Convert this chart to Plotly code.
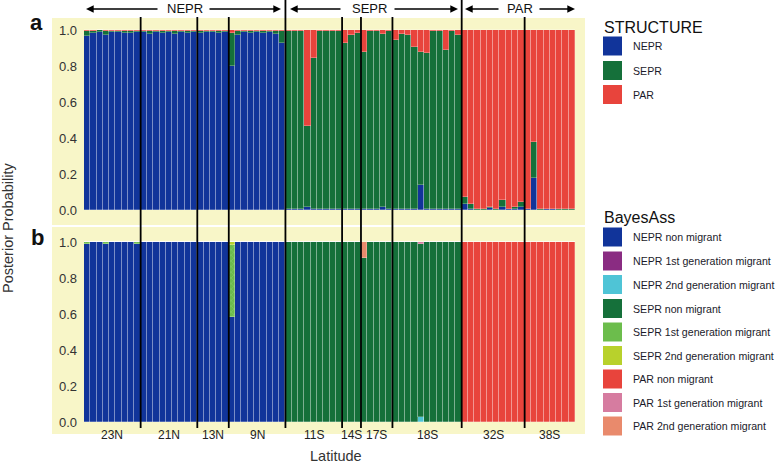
import plotly.graph_objects as go

W, H = 778, 464

def px(x):
    return x / W

def py(y):
    return 1 - y / H

# ---------------- data ----------------
group_labels = ["23N", "21N", "13N", "9N", "11S", "14S", "17S", "18S", "32S", "38S"]
group_sizes = [9, 9, 5, 9, 9, 3, 5, 11, 10, 8]
region_labels = ["NEPR", "SEPR", "PAR"]
region_group_counts = [4, 4, 2]

# STRUCTURE posterior probabilities (per individual, 78 individuals)
s_nepr = [0.965, 0.985, 0.99, 0.975, 0.99, 0.99, 0.985, 0.985, 0.99,
          0.99, 0.98, 0.99, 0.985, 0.99, 0.98, 0.99, 0.985, 0.99,
          0.985, 0.99, 0.99, 0.985, 0.99,
          0.80, 0.975, 0.99, 0.985, 0.99, 0.985, 0.99, 0.98, 0.93,
          0.005, 0.003, 0.003, 0.017, 0.005, 0.003, 0.005, 0.005, 0.003,
          0.005, 0.003, 0.003,
          0.005, 0.003, 0.003, 0.015, 0.003,
          0.003, 0.003, 0.008, 0.003, 0.14, 0.008, 0.003, 0.008, 0.005, 0.005, 0.003,
          0.033, 0.005, 0.002, 0.002, 0.013, 0.002, 0.017, 0.004, 0.003, 0.015,
          0.004, 0.176, 0.002, 0.004, 0.005, 0.002, 0.002, 0.002]
s_sepr = [0.03, 0.01, 0.008, 0.02, 0.005, 0.005, 0.01, 0.008, 0.005,
          0.006, 0.015, 0.005, 0.01, 0.006, 0.015, 0.005, 0.01, 0.006,
          0.01, 0.005, 0.005, 0.01, 0.005,
          0.185, 0.02, 0.005, 0.01, 0.006, 0.01, 0.005, 0.015, 0.065,
          0.99, 0.992, 0.992, 0.45, 0.84, 0.992, 0.99, 0.99, 0.992,
          0.925, 0.967, 0.98,
          0.875, 0.992, 0.992, 0.965, 0.992,
          0.94, 0.975, 0.967, 0.904, 0.74, 0.862, 0.99, 0.987, 0.885, 0.99, 0.972,
          0.041, 0.028, 0.003, 0.003, 0.002, 0.003, 0.037, 0.004, 0.013, 0.027,
          0.003, 0.204, 0.003, 0.003, 0.003, 0.003, 0.003, 0.003]
s_par = [0.005, 0.005, 0.002, 0.005, 0.005, 0.005, 0.005, 0.007, 0.005,
         0.004, 0.005, 0.005, 0.005, 0.004, 0.005, 0.005, 0.005, 0.004,
         0.005, 0.005, 0.005, 0.005, 0.005,
         0.015, 0.005, 0.005, 0.005, 0.004, 0.005, 0.005, 0.005, 0.005,
         0.005, 0.005, 0.005, 0.533, 0.155, 0.005, 0.005, 0.005, 0.005,
         0.07, 0.03, 0.017,
         0.12, 0.005, 0.005, 0.02, 0.005,
         0.057, 0.022, 0.025, 0.093, 0.12, 0.13, 0.007, 0.005, 0.11, 0.005, 0.025,
         0.926, 0.967, 0.995, 0.995, 0.985, 0.995, 0.946, 0.992, 0.984, 0.958,
         0.993, 0.62, 0.995, 0.993, 0.992, 0.995, 0.995, 0.995]

# BayesAss posterior probabilities (per individual)
b_nepr_non = [0.99, 1, 1, 0.99, 1, 1, 1, 1, 0.99,
              1, 1, 1, 1, 1, 1, 1, 1, 1,
              1, 1, 1, 1, 1,
              0.585, 1, 1, 1, 1, 1, 1, 1, 1,
              0, 0, 0, 0, 0, 0, 0, 0, 0,
              0, 0, 0,
              0, 0, 0, 0, 0,
              0, 0, 0, 0, 0, 0, 0, 0, 0, 0, 0,
              0, 0, 0, 0, 0, 0, 0, 0, 0, 0,
              0, 0, 0, 0, 0, 0, 0, 0]
b_nepr_1st = [0, 0, 0, 0, 0, 0, 0, 0, 0,
              0, 0, 0, 0, 0, 0, 0, 0, 0,
              0, 0, 0, 0, 0,
              0, 0, 0, 0, 0, 0, 0, 0, 0,
              0, 0, 0, 0, 0, 0, 0, 0, 0,
              0, 0, 0,
              0, 0, 0, 0, 0,
              0, 0, 0, 0, 0, 0, 0, 0, 0, 0, 0,
              0, 0, 0, 0, 0, 0, 0, 0, 0, 0,
              0, 0, 0, 0, 0, 0, 0, 0]
b_nepr_2nd = [0, 0, 0, 0, 0, 0, 0, 0, 0,
              0, 0, 0, 0, 0, 0, 0, 0, 0,
              0, 0, 0, 0, 0,
              0, 0, 0, 0, 0, 0, 0, 0, 0,
              0, 0, 0, 0, 0, 0, 0, 0, 0,
              0, 0, 0,
              0, 0, 0, 0, 0,
              0, 0, 0, 0, 0.03, 0, 0, 0, 0, 0, 0,
              0, 0, 0, 0, 0, 0, 0, 0, 0, 0,
              0, 0, 0, 0, 0, 0, 0, 0]
b_sepr_non = [0, 0, 0, 0, 0, 0, 0, 0, 0,
              0, 0, 0, 0, 0, 0, 0, 0, 0,
              0, 0, 0, 0, 0,
              0, 0, 0, 0, 0, 0, 0, 0, 0,
              1, 1, 1, 1, 1, 1, 1, 1, 1,
              1, 1, 1,
              0.91, 1, 1, 1, 1,
              1, 1, 1, 1, 0.96, 1, 1, 1, 1, 1, 1,
              0, 0, 0, 0, 0, 0, 0, 0, 0, 0,
              0, 0, 0, 0, 0, 0, 0, 0]
b_sepr_1st = [0.01, 0, 0, 0.01, 0, 0, 0, 0, 0.01,
              0, 0, 0, 0, 0, 0, 0, 0, 0,
              0, 0, 0, 0, 0,
              0.397, 0, 0, 0, 0, 0, 0, 0, 0,
              0, 0, 0, 0, 0, 0, 0, 0, 0,
              0, 0, 0,
              0, 0, 0, 0, 0,
              0, 0, 0, 0, 0, 0, 0, 0, 0, 0, 0,
              0, 0, 0, 0, 0, 0, 0, 0, 0, 0,
              0, 0, 0, 0, 0, 0, 0, 0]
b_sepr_2nd = [0, 0, 0, 0, 0, 0, 0, 0, 0,
              0, 0, 0, 0, 0, 0, 0, 0, 0,
              0, 0, 0, 0, 0,
              0.018, 0, 0, 0, 0, 0, 0, 0, 0,
              0, 0, 0, 0, 0, 0, 0, 0, 0,
              0, 0, 0,
              0, 0, 0, 0, 0,
              0, 0, 0, 0, 0, 0, 0, 0, 0, 0, 0,
              0, 0, 0, 0, 0, 0, 0, 0, 0, 0,
              0, 0, 0, 0, 0, 0, 0, 0]
b_par_non = [0, 0, 0, 0, 0, 0, 0, 0, 0,
             0, 0, 0, 0, 0, 0, 0, 0, 0,
             0, 0, 0, 0, 0,
             0, 0, 0, 0, 0, 0, 0, 0, 0,
             0, 0, 0, 0, 0, 0, 0, 0, 0,
             0, 0, 0,
             0, 0, 0, 0, 0,
             0, 0, 0, 0, 0, 0, 0, 0, 0, 0, 0,
             1, 1, 1, 1, 1, 1, 1, 1, 1, 1,
             1, 1, 1, 1, 1, 1, 1, 1]
b_par_1st = [0, 0, 0, 0, 0, 0, 0, 0, 0,
             0, 0, 0, 0, 0, 0, 0, 0, 0,
             0, 0, 0, 0, 0,
             0, 0, 0, 0, 0, 0, 0, 0, 0,
             0, 0, 0, 0, 0, 0, 0, 0, 0,
             0, 0, 0,
             0, 0, 0, 0, 0,
             0, 0, 0, 0, 0.01, 0, 0, 0, 0, 0, 0,
             0, 0, 0, 0, 0, 0, 0, 0, 0, 0,
             0, 0, 0, 0, 0, 0, 0, 0]
b_par_2nd = [0, 0, 0, 0, 0, 0, 0, 0, 0,
             0, 0, 0, 0, 0, 0, 0, 0, 0,
             0, 0, 0, 0, 0,
             0, 0, 0, 0, 0, 0, 0, 0, 0,
             0, 0, 0, 0, 0, 0, 0, 0, 0,
             0, 0, 0,
             0.09, 0, 0, 0, 0,
             0, 0, 0, 0, 0, 0, 0, 0, 0, 0, 0,
             0, 0, 0, 0, 0, 0, 0, 0, 0, 0,
             0, 0, 0, 0, 0, 0, 0, 0]

structure_names = ["NEPR", "SEPR", "PAR"]
bayes_names = ["NEPR non migrant", "NEPR 1st generation migrant", "NEPR 2nd generation migrant",
               "SEPR non migrant", "SEPR 1st generation migrant", "SEPR 2nd generation migrant",
               "PAR non migrant", "PAR 1st generation migrant", "PAR 2nd generation migrant"]

# ---------------- styles ----------------
FONT = "Arial, Liberation Sans, sans-serif"
YELLOW = "#f8f6c8"
structure_colors = ["#11349a", "#15703a", "#e8443c"]
bayes_colors = ["#11349a", "#8a2c82", "#4fc4d6",
                "#15703a", "#6cbd4c", "#b8d12c",
                "#e8443c", "#d67ca0", "#e98a6c"]
bayes_patterns = [None, ".", None, None, "x", ".", None, ".", None]

n = len(s_nepr)
idx = list(range(n))
sep = dict(color="rgba(255,255,255,0.32)", width=0.8)

fig = go.Figure()

for name, vals, col in zip(structure_names, [s_nepr, s_sepr, s_par], structure_colors):
    fig.add_trace(go.Bar(x=idx, y=vals, name=name, marker=dict(color=col, line=sep),
                         xaxis="x", yaxis="y", showlegend=False))

bayes_vals = [b_nepr_non, b_nepr_1st, b_nepr_2nd, b_sepr_non, b_sepr_1st, b_sepr_2nd,
              b_par_non, b_par_1st, b_par_2nd]
for name, vals, col, pat in zip(bayes_names, bayes_vals, bayes_colors, bayes_patterns):
    marker = dict(color=col, line=sep)
    if pat:
        marker["pattern"] = dict(shape=pat, fillmode="overlay", fgcolor="rgba(255,255,255,0.35)",
                                 size=4, solidity=0.25)
    fig.add_trace(go.Bar(x=idx, y=vals, name=name, marker=marker,
                         xaxis="x2", yaxis="y2", showlegend=False))

# ---------------- layout ----------------
x_dom = [px(84), px(575)]
ya_dom = [py(225), py(18)]
yb_dom = [py(434), py(227)]

axis_common = dict(showgrid=False, zeroline=False, showline=False)
ytick = dict(tickvals=[0, 0.2, 0.4, 0.6, 0.8, 1.0], ticktext=["0.0", "0.2", "0.4", "0.6", "0.8", "1.0"],
             tickfont=dict(family=FONT, size=13, color="#333"), ticks="", ticklabelstandoff=6)

fig.update_layout(
    width=W, height=H, margin=dict(l=0, r=0, t=0, b=0),
    paper_bgcolor="white", plot_bgcolor="rgba(0,0,0,0)",
    barmode="stack", bargap=0,
    font=dict(family=FONT, color="#222"),
    xaxis=dict(domain=x_dom, range=[-0.5, n - 0.5], showticklabels=False, anchor="y", **axis_common),
    xaxis2=dict(domain=x_dom, range=[-0.5, n - 0.5], showticklabels=False, anchor="y2", **axis_common),
    yaxis=dict(domain=ya_dom, range=[-0.0833, 1.0667], anchor="x", **axis_common, **ytick),
    yaxis2=dict(domain=yb_dom, range=[-0.0667, 1.0833], anchor="x2", **axis_common, **ytick),
)

shapes = []
# yellow panel backgrounds
for top, bot in [(18, 225), (227, 434)]:
    shapes.append(dict(type="rect", xref="paper", yref="paper", x0=px(52), x1=px(585),
                       y0=py(bot), y1=py(top), fillcolor=YELLOW, line=dict(width=0), layer="below"))

# group boundaries
bounds = []
acc = 0
for s in group_sizes[:-1]:
    acc += s
    bounds.append(acc - 0.5)
region_bounds = []
acc_g = 0
for c in region_group_counts[:-1]:
    acc_g += c
    region_bounds.append(acc_g - 1)
for i, b in enumerate(bounds):
    top = 0 if i in region_bounds else 17
    shapes.append(dict(type="line", xref="x", yref="paper", x0=b, x1=b, y0=py(428), y1=py(top),
                       line=dict(color="black", width=1.8)))

# legend squares
leg_a_y = [46, 70.5, 94.5]
for yy, col in zip(leg_a_y, structure_colors):
    shapes.append(dict(type="rect", xref="paper", yref="paper", x0=px(603), x1=px(622),
                       y0=py(yy + 9.5), y1=py(yy - 9.5), fillcolor=col, line=dict(width=0)))
leg_b_y = [237, 261, 284.5, 308.5, 332, 355.5, 379, 402.5, 426]
for yy, col in zip(leg_b_y, bayes_colors):
    shapes.append(dict(type="rect", xref="paper", yref="paper", x0=px(603), x1=px(622),
                       y0=py(yy + 9.5), y1=py(yy - 9.5), fillcolor=col, line=dict(width=0)))

annotations = []
# legend titles & labels
annotations.append(dict(text="STRUCTURE", x=px(602), y=py(28), xref="paper", yref="paper",
                        xanchor="left", yanchor="middle", showarrow=False,
                        font=dict(family=FONT, size=16, color="#111")))
annotations.append(dict(text="BayesAss", x=px(602), y=py(217), xref="paper", yref="paper",
                        xanchor="left", yanchor="middle", showarrow=False,
                        font=dict(family=FONT, size=16, color="#111")))
for yy, name in zip(leg_a_y, structure_names):
    annotations.append(dict(text=name, x=px(631), y=py(yy), xref="paper", yref="paper",
                            xanchor="left", yanchor="middle", showarrow=False,
                            font=dict(family=FONT, size=10.6, color="#1a1a2a")))
for yy, name in zip(leg_b_y, bayes_names):
    annotations.append(dict(text=name, x=px(631), y=py(yy), xref="paper", yref="paper",
                            xanchor="left", yanchor="middle", showarrow=False,
                            font=dict(family=FONT, size=10.6, color="#1a1a2a")))

# group labels
start = 0
for lab, s in zip(group_labels, group_sizes):
    center = start + (s - 1) / 2
    annotations.append(dict(text=lab, x=center, y=py(435), xref="x", yref="paper",
                            xanchor="center", yanchor="middle", showarrow=False,
                            font=dict(family=FONT, size=12, color="#222")))
    start += s

# region labels with arrows
region_text_x = [185, 369, 520]
arrow_specs = [  # (left tip, left tail, right tail, right tip) in pixels
    (86, 159, 208, 281),
    (290, 342, 393, 458),
    (465, 500, 538, 575),
]
for lab, cx, (lt, ltl, rtl, rt) in zip(region_labels, region_text_x, arrow_specs):
    annotations.append(dict(text=lab, x=px(cx), y=py(9), xref="paper", yref="paper",
                            xanchor="center", yanchor="middle", showarrow=False,
                            font=dict(family=FONT, size=13, color="#111")))
    for tip, tail in [(lt, ltl), (rt, rtl)]:
        annotations.append(dict(text="", x=px(tip), y=py(9), xref="paper", yref="paper",
                                showarrow=True, ax=tail - tip, ay=0, axref="pixel", ayref="pixel",
                                arrowhead=2, arrowsize=1.1, arrowwidth=1.4, arrowcolor="black"))

# panel letters
annotations.append(dict(text="<b>a</b>", x=px(36), y=py(23), xref="paper", yref="paper",
                        xanchor="center", yanchor="middle", showarrow=False,
                        font=dict(family=FONT, size=22, color="#111")))
annotations.append(dict(text="<b>b</b>", x=px(37), y=py(237), xref="paper", yref="paper",
                        xanchor="center", yanchor="middle", showarrow=False,
                        font=dict(family=FONT, size=22, color="#111")))

# axis titles
annotations.append(dict(text="Posterior Probability", x=px(8), y=py(228), xref="paper", yref="paper",
                        xanchor="center", yanchor="middle", showarrow=False, textangle=-90,
                        font=dict(family=FONT, size=14.5, color="#333")))
annotations.append(dict(text="Latitude", x=px(336), y=py(456), xref="paper", yref="paper",
                        xanchor="center", yanchor="middle", showarrow=False,
                        font=dict(family=FONT, size=14.5, color="#333")))

fig.update_layout(shapes=shapes, annotations=annotations)

fig.write_html("out.html", config={"displayModeBar": False},
               post_script="document.body.style.margin='0';document.body.style.padding='0';"
                           "document.body.style.overflow='hidden';")
